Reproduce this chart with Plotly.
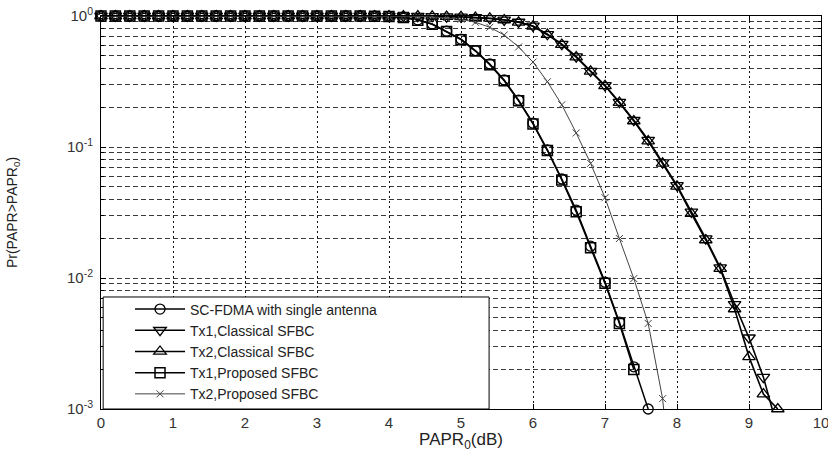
import plotly.graph_objects as go

# ---------------- data ----------------
papr0_db = [0.0, 0.2, 0.4, 0.6, 0.8, 1.0, 1.2, 1.4, 1.6, 1.8,
            2.0, 2.2, 2.4, 2.6, 2.8, 3.0, 3.2, 3.4, 3.6, 3.8,
            4.0, 4.2, 4.4, 4.6, 4.8, 5.0, 5.2, 5.4, 5.6, 5.8,
            6.0, 6.2, 6.4, 6.6, 6.8, 7.0, 7.2, 7.4, 7.6, 7.8,
            8.0, 8.2, 8.4, 8.6, 8.8, 9.0, 9.2, 9.4]

sc_fdma_single = [1.0, 1.0, 1.0, 1.0, 1.0, 1.0, 1.0, 1.0, 1.0, 1.0,
                  1.0, 1.0, 1.0, 1.0, 1.0, 1.0, 1.0, 1.0, 1.0, 0.998,
                  0.993, 0.975, 0.935, 0.87, 0.765, 0.665, 0.545, 0.43, 0.325, 0.228,
                  0.152, 0.095, 0.057, 0.033, 0.0175, 0.0093, 0.0046, 0.0021, 0.0010]

tx1_classical = [1.0, 1.0, 1.0, 1.0, 1.0, 1.0, 1.0, 1.0, 1.0, 1.0,
                 1.0, 1.0, 1.0, 1.0, 1.0, 1.0, 1.0, 1.0, 1.0, 1.0,
                 0.999, 0.998, 0.997, 0.995, 0.99, 0.985, 0.975, 0.96, 0.935, 0.90,
                 0.84, 0.725, 0.61, 0.49, 0.38, 0.295, 0.22, 0.16, 0.113, 0.076,
                 0.051, 0.032, 0.020, 0.012, 0.0063, 0.0035, 0.00175, 0.0007]

tx2_classical = [1.0, 1.0, 1.0, 1.0, 1.0, 1.0, 1.0, 1.0, 1.0, 1.0,
                 1.0, 1.0, 1.0, 1.0, 1.0, 1.0, 1.0, 1.0, 1.0, 1.0,
                 0.999, 0.998, 0.997, 0.995, 0.99, 0.984, 0.974, 0.958, 0.932, 0.895,
                 0.835, 0.72, 0.605, 0.485, 0.378, 0.293, 0.218, 0.158, 0.111, 0.075,
                 0.050, 0.031, 0.0195, 0.0118, 0.0058, 0.0025, 0.0013, 0.0010]

tx1_proposed = [1.0, 1.0, 1.0, 1.0, 1.0, 1.0, 1.0, 1.0, 1.0, 1.0,
                1.0, 1.0, 1.0, 1.0, 1.0, 1.0, 1.0, 1.0, 1.0, 0.997,
                0.992, 0.972, 0.93, 0.865, 0.76, 0.66, 0.54, 0.425, 0.32, 0.225,
                0.15, 0.094, 0.056, 0.032, 0.017, 0.0091, 0.0045, 0.0020]

tx2_proposed = [1.0, 1.0, 1.0, 1.0, 1.0, 1.0, 1.0, 1.0, 1.0, 1.0,
                1.0, 1.0, 1.0, 1.0, 1.0, 1.0, 1.0, 1.0, 1.0, 1.0,
                1.0, 0.998, 0.994, 0.985, 0.97, 0.945, 0.895, 0.82, 0.716, 0.58,
                0.445, 0.315, 0.21, 0.128, 0.075, 0.041, 0.020, 0.0099, 0.0045, 0.0012,
                0.0001]

series_names = ["SC-FDMA with single antenna", "Tx1,Classical SFBC",
                "Tx2,Classical SFBC", "Tx1,Proposed SFBC", "Tx2,Proposed SFBC"]

y_tickvals = [0.001, 0.01, 0.1, 1]
y_ticktext = ["10<sup>-3</sup>", "10<sup>-2</sup>", "10<sup>-1</sup>", "10<sup>0</sup>"]
x_tickvals = [0, 1, 2, 3, 4, 5, 6, 7, 8, 9, 10]

# ---------------- styling ----------------
FONT = "Liberation Sans, Arial, sans-serif"

styles = [
    dict(symbol="circle-open", size=10, color="black", width=1.5, mlw=1.3),
    dict(symbol="triangle-down-open", size=11, color="black", width=1.6, mlw=1.3),
    dict(symbol="triangle-up-open", size=11, color="black", width=1.6, mlw=1.3),
    dict(symbol="square-open", size=10, color="black", width=1.5, mlw=1.5),
    dict(symbol="x-thin-open", size=7, color="#444444", width=1.0, mlw=1.0),
]
all_series = [sc_fdma_single, tx1_classical, tx2_classical, tx1_proposed, tx2_proposed]

fig = go.Figure()
for name, ys, st in zip(series_names, all_series, styles):
    xs = papr0_db[:len(ys)]
    fig.add_trace(go.Scatter(
        x=xs, y=ys, name=name, mode="lines+markers",
        line=dict(color=st["color"], width=st["width"]),
        marker=dict(symbol=st["symbol"], size=st["size"], color=st["color"],
                    line=dict(color=st["color"], width=st["mlw"])),
        cliponaxis=False,
    ))

# white legend box (MATLAB-style wide legend frame)
fig.add_shape(type="rect", xref="paper", yref="paper",
              x0=0.003, x1=0.539, y0=0.0, y1=0.285,
              fillcolor="white", line=dict(color="black", width=1), layer="above")

hgrid_col = "#3a3a3a"
vgrid_col = "#111111"
fig.update_layout(
    width=828, height=452,
    margin=dict(l=101, r=7, t=16, b=43),
    paper_bgcolor="white", plot_bgcolor="white",
    font=dict(family=FONT, size=14, color="#333333"),
    showlegend=True,
    legend=dict(x=0.0403, y=0.294, xanchor="left", yanchor="top",
                bgcolor="rgba(0,0,0,0)", borderwidth=0,
                font=dict(family=FONT, size=14, color="#222222"),
                itemwidth=50, tracegroupgap=0),
    xaxis=dict(range=[0, 10], tickmode="array", tickvals=x_tickvals,
               ticks="inside", ticklen=5, tickcolor="black",
               showline=True, linecolor="black", linewidth=1, mirror="ticks",
               showgrid=True, gridcolor=vgrid_col, gridwidth=1, griddash="2px,3px",
               zeroline=False, automargin=False, ticklabeloverflow="allow",
               tickfont=dict(family=FONT, size=15, color="#333333"),
               title=dict(text="PAPR<sub>0</sub>(dB)", standoff=5,
                          font=dict(family=FONT, size=17, color="#222222"))),
    yaxis=dict(type="log", range=[-3, 0], tickmode="array",
               tickvals=y_tickvals, ticktext=y_ticktext,
               ticks="inside", ticklen=5, tickcolor="black",
               showline=True, linecolor="black", linewidth=1, mirror="ticks",
               showgrid=True, gridcolor=hgrid_col, gridwidth=1, griddash="5px,3px",
               zeroline=False, automargin=False, ticklabeloverflow="allow",
               ticklabelstandoff=4,
               tickfont=dict(family=FONT, size=15, color="#333333"),
               minor=dict(dtick="D1", ticks="inside", ticklen=3, tickcolor="black",
                          showgrid=True, gridcolor=hgrid_col, gridwidth=1,
                          griddash="5px,3px"),
               title=dict(text="Pr(PAPR&gt;PAPR<sub>0</sub>)", standoff=46,
                          font=dict(family=FONT, size=14, color="#222222"))),
)

fig.write_html(
    "out.html",
    config={"displayModeBar": False},
    post_script="document.body.style.margin='0px';document.body.style.overflow='hidden';",
)
